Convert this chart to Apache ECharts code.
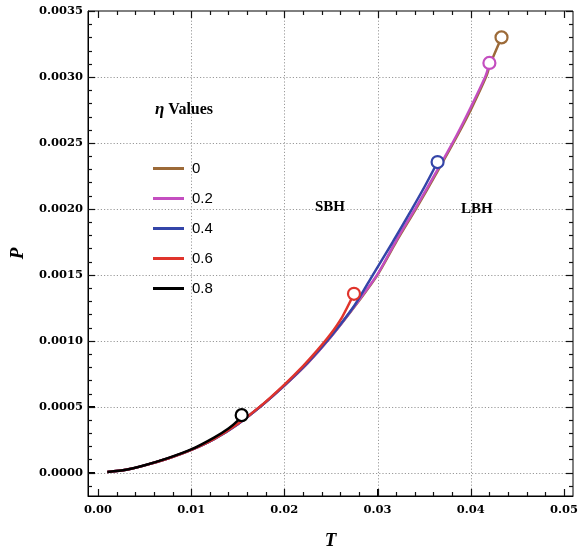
<!DOCTYPE html>
<html><head><meta charset="utf-8">
<script src="https://cdn.jsdelivr.net/npm/echarts@6/dist/echarts.min.js"></script>
<style>html,body{margin:0;padding:0;background:#fff}#c{width:585px;height:552px}</style>
</head><body><div id="c"></div>
<script>
// ---- data ----
const seriesNames = ['0', '0.2', '0.4', '0.6', '0.8'];

const T_eta0  = [0.0010, 0.0030, 0.0050, 0.0075, 0.0100, 0.0125, 0.0150, 0.0175, 0.0200, 0.0225, 0.0250, 0.0275, 0.0300, 0.0320, 0.0342, 0.0364, 0.0386, 0.0401, 0.0417, 0.0421, 0.0433];
const P_eta0  = [0.000005, 0.000022, 0.000055, 0.000107, 0.000172, 0.000256, 0.000368, 0.000505, 0.000660, 0.000830, 0.001030, 0.001255, 0.001500, 0.001750, 0.002010, 0.002280, 0.002560, 0.002765, 0.003010, 0.003100, 0.003300];

const T_eta02 = [0.0010, 0.0030, 0.0050, 0.0075, 0.0100, 0.0125, 0.0150, 0.0175, 0.0200, 0.0225, 0.0250, 0.0275, 0.0300, 0.0320, 0.0341, 0.0363, 0.0385, 0.0400, 0.0416, 0.0420];
const P_eta02 = [0.000005, 0.000022, 0.000055, 0.000107, 0.000172, 0.000256, 0.000368, 0.000505, 0.000660, 0.000830, 0.001030, 0.001260, 0.001505, 0.001760, 0.002010, 0.002280, 0.002560, 0.002770, 0.003010, 0.003106];

const T_eta04 = [0.0010, 0.0030, 0.0050, 0.0075, 0.0100, 0.0125, 0.0150, 0.0175, 0.0200, 0.0225, 0.0250, 0.0275, 0.0295, 0.0316, 0.0337, 0.0351, 0.03644];
const P_eta04 = [0.000005, 0.000022, 0.000055, 0.000107, 0.000172, 0.000256, 0.000368, 0.000505, 0.000662, 0.000835, 0.001035, 0.001265, 0.001500, 0.001745, 0.002000, 0.002175, 0.002355];

const T_eta06 = [0.0010, 0.0030, 0.0050, 0.0075, 0.0100, 0.0125, 0.0150, 0.0175, 0.0200, 0.0220, 0.0235, 0.0249, 0.0262, 0.02747];
const P_eta06 = [0.000005, 0.000022, 0.000055, 0.000107, 0.000172, 0.000257, 0.000370, 0.000508, 0.000668, 0.000808, 0.000925, 0.001045, 0.001180, 0.001356];

const T_eta08 = [0.0010, 0.0030, 0.0050, 0.0075, 0.0100, 0.0125, 0.0140, 0.0150, 0.01542];
const P_eta08 = [0.000005, 0.000022, 0.000056, 0.000110, 0.000176, 0.000268, 0.000335, 0.000395, 0.000432];

// critical points (end circles)
const criticalT = [0.0433, 0.0420, 0.03644, 0.02747, 0.01542];
const criticalP = [0.003300, 0.003106, 0.002355, 0.001356, 0.000436];

// ticks
const xMajorTicks = [0, 0.01, 0.02, 0.03, 0.04, 0.05];
const xMinorTicks = [0.002, 0.004, 0.006, 0.008, 0.012, 0.014, 0.016, 0.018, 0.022, 0.024, 0.026, 0.028, 0.032, 0.034, 0.036, 0.038, 0.042, 0.044, 0.046, 0.048];
const xGridLines  = [0.01, 0.02, 0.03, 0.04];
const yMajorTicks = [0, 0.0005, 0.001, 0.0015, 0.002, 0.0025, 0.003, 0.0035];
const yMinorTicks = [-0.0001, 0.0001, 0.0002, 0.0003, 0.0004, 0.0006, 0.0007, 0.0008, 0.0009, 0.0011, 0.0012, 0.0013, 0.0014, 0.0016, 0.0017, 0.0018, 0.0019, 0.0021, 0.0022, 0.0023, 0.0024, 0.0026, 0.0027, 0.0028, 0.0029, 0.0031, 0.0032, 0.0033, 0.0034];
const yGridLines  = [0, 0.0005, 0.001, 0.0015, 0.002, 0.0025, 0.003];

// ---- styling ----
const colors = ['#9C6A38', '#C44EC0', '#3445A8', '#E0342C', '#000000'];
const X_MIN = -0.00107, X_MAX = 0.05097, Y_MIN = -0.000177, Y_MAX = 0.0035;
const serif = 'DejaVu Serif';
const tSerif = 'Liberation Serif';
const MAJ = 7, MIN = 4;

function zip(a, b) { return a.map((v, i) => [v, b[i]]); }
const Ts = [T_eta0, T_eta02, T_eta04, T_eta06, T_eta08];
const Ps = [P_eta0, P_eta02, P_eta04, P_eta06, P_eta08];

// axis decorations positioned through the axis scales.
// side: 'b','t' (x values) | 'l','r' (y values) | 'gx','gy' (dotted grid lines)
function decoSeries(values, side, len) {
  const isX = side === 'b' || side === 't' || side === 'gx';
  const isGrid = side[0] === 'g';
  return {
    type: 'custom', silent: true, clip: false, z: isGrid ? 1 : 2,
    data: values.map(v => isX ? [v, 0.001] : [0.01, v]),
    renderItem: function (params, api) {
      const cs = params.coordSys;
      const pt = api.coord([api.value(0), api.value(1)]);
      const x = Math.round(pt[0]) + 0.5, y = Math.round(pt[1]) + 0.5;
      const top = cs.y, bot = cs.y + cs.height, lft = cs.x, rgt = cs.x + cs.width;
      let shape;
      if (side === 'b') shape = { x1: x, y1: bot, x2: x, y2: bot - len };
      else if (side === 't') shape = { x1: x, y1: top, x2: x, y2: top + len };
      else if (side === 'l') shape = { x1: lft, y1: y, x2: lft + len, y2: y };
      else if (side === 'r') shape = { x1: rgt, y1: y, x2: rgt - len, y2: y };
      else if (side === 'gx') shape = { x1: x, y1: top, x2: x, y2: bot };
      else shape = { x1: lft, y1: y, x2: rgt, y2: y };
      const style = isGrid
        ? { stroke: '#9a9a9a', lineWidth: 1, lineDash: [1.2, 2] }
        : { stroke: '#111111', lineWidth: 1.2, lineDash: [2000, 0] };
      return { type: 'line', shape: shape, style: style };
    }
  };
}

const lineSeries = seriesNames.map((name, i) => ({
  name, type: 'line',
  data: zip(Ts[i], Ps[i]), symbol: 'none', smooth: 0.25,
  lineStyle: { color: colors[i], width: 2.5 }, itemStyle: { color: colors[i] },
  z: 3 + i
}));
const circleSeries = seriesNames.map((name, i) => ({
  name: 'crit' + name, type: 'scatter',
  data: [[criticalT[i], criticalP[i]]], symbol: 'circle', symbolSize: 12,
  itemStyle: { color: '#fff', borderColor: colors[i], borderWidth: 2.2, opacity: 1 },
  z: 20
}));

const chart = echarts.init(document.getElementById('c'));
chart.setOption({
  animation: false,
  grid: { left: 88, right: 12, top: 11, bottom: 56, containLabel: false, outerBoundsMode: 'none',
    show: true, borderColor: '#000', borderWidth: 1, backgroundColor: 'transparent' },
  xAxis: {
    type: 'value', min: X_MIN, max: X_MAX,
    axisLine: { show: true, onZero: false, lineStyle: { color: '#000', width: 1 } },
    axisTick: { show: true, inside: true, length: MAJ, customValues: xMajorTicks, lineStyle: { color: '#000', width: 1 } },
    axisLabel: { show: true, customValues: xMajorTicks, margin: 8, showMinLabel: true, showMaxLabel: true,
      formatter: v => v.toFixed(2), fontFamily: serif, fontWeight: 'bold', fontSize: 11.5, color: '#000' },
    splitLine: { show: false },
    name: 'T', nameLocation: 'middle', nameGap: 36,
    nameTextStyle: { fontFamily: tSerif, fontWeight: 'bold', fontStyle: 'italic', fontSize: 19, color: '#000' }
  },
  yAxis: {
    type: 'value', min: Y_MIN, max: Y_MAX,
    axisLine: { show: true, onZero: false, lineStyle: { color: '#000', width: 1 } },
    axisTick: { show: true, inside: true, length: MAJ, customValues: yMajorTicks, lineStyle: { color: '#000', width: 1 } },
    axisLabel: { show: true, customValues: yMajorTicks, margin: 5, showMinLabel: true, showMaxLabel: true,
      formatter: v => v.toFixed(4), fontFamily: serif, fontWeight: 'bold', fontSize: 11.5, color: '#000' },
    splitLine: { show: false },
    name: 'P', nameLocation: 'middle', nameGap: 52, nameRotate: 90,
    nameTextStyle: { fontFamily: tSerif, fontWeight: 'bold', fontStyle: 'italic', fontSize: 19, color: '#000' }
  },
  legend: {
    data: seriesNames.map(n => ({ name: n, icon: 'rect' })),
    orient: 'vertical', left: 153, top: 161, itemWidth: 31, itemHeight: 3, itemGap: 15, padding: 0,
    textStyle: { fontFamily: 'Liberation Sans', fontSize: 15, color: '#000', padding: [0, 0, 0, 3] },
    selectedMode: false
  },
  title: [
    { text: '{i|η} Values', left: 155, top: 101, padding: 0,
      textStyle: { fontFamily: tSerif, fontWeight: 'bold', fontSize: 16, color: '#000',
        rich: { i: { fontFamily: tSerif, fontWeight: 'bold', fontStyle: 'italic', fontSize: 17, color: '#000' } } } },
    { text: 'SBH', left: 315, top: 200, padding: 0, textStyle: { fontFamily: tSerif, fontWeight: 'bold', fontSize: 15, color: '#000' } },
    { text: 'LBH', left: 461, top: 202, padding: 0, textStyle: { fontFamily: tSerif, fontWeight: 'bold', fontSize: 15, color: '#000' } }
  ],
  series: [
    decoSeries(xGridLines, 'gx', 0), decoSeries(yGridLines, 'gy', 0),
    decoSeries(xMajorTicks, 'b', MAJ), decoSeries(xMinorTicks, 'b', MIN),
    decoSeries(xMajorTicks, 't', MAJ), decoSeries(xMinorTicks, 't', MIN),
    decoSeries(yMajorTicks, 'l', MAJ), decoSeries(yMinorTicks, 'l', MIN),
    decoSeries(yMajorTicks, 'r', MAJ), decoSeries(yMinorTicks, 'r', MIN)
  ].concat(lineSeries).concat(circleSeries)
});
</script></body></html>
